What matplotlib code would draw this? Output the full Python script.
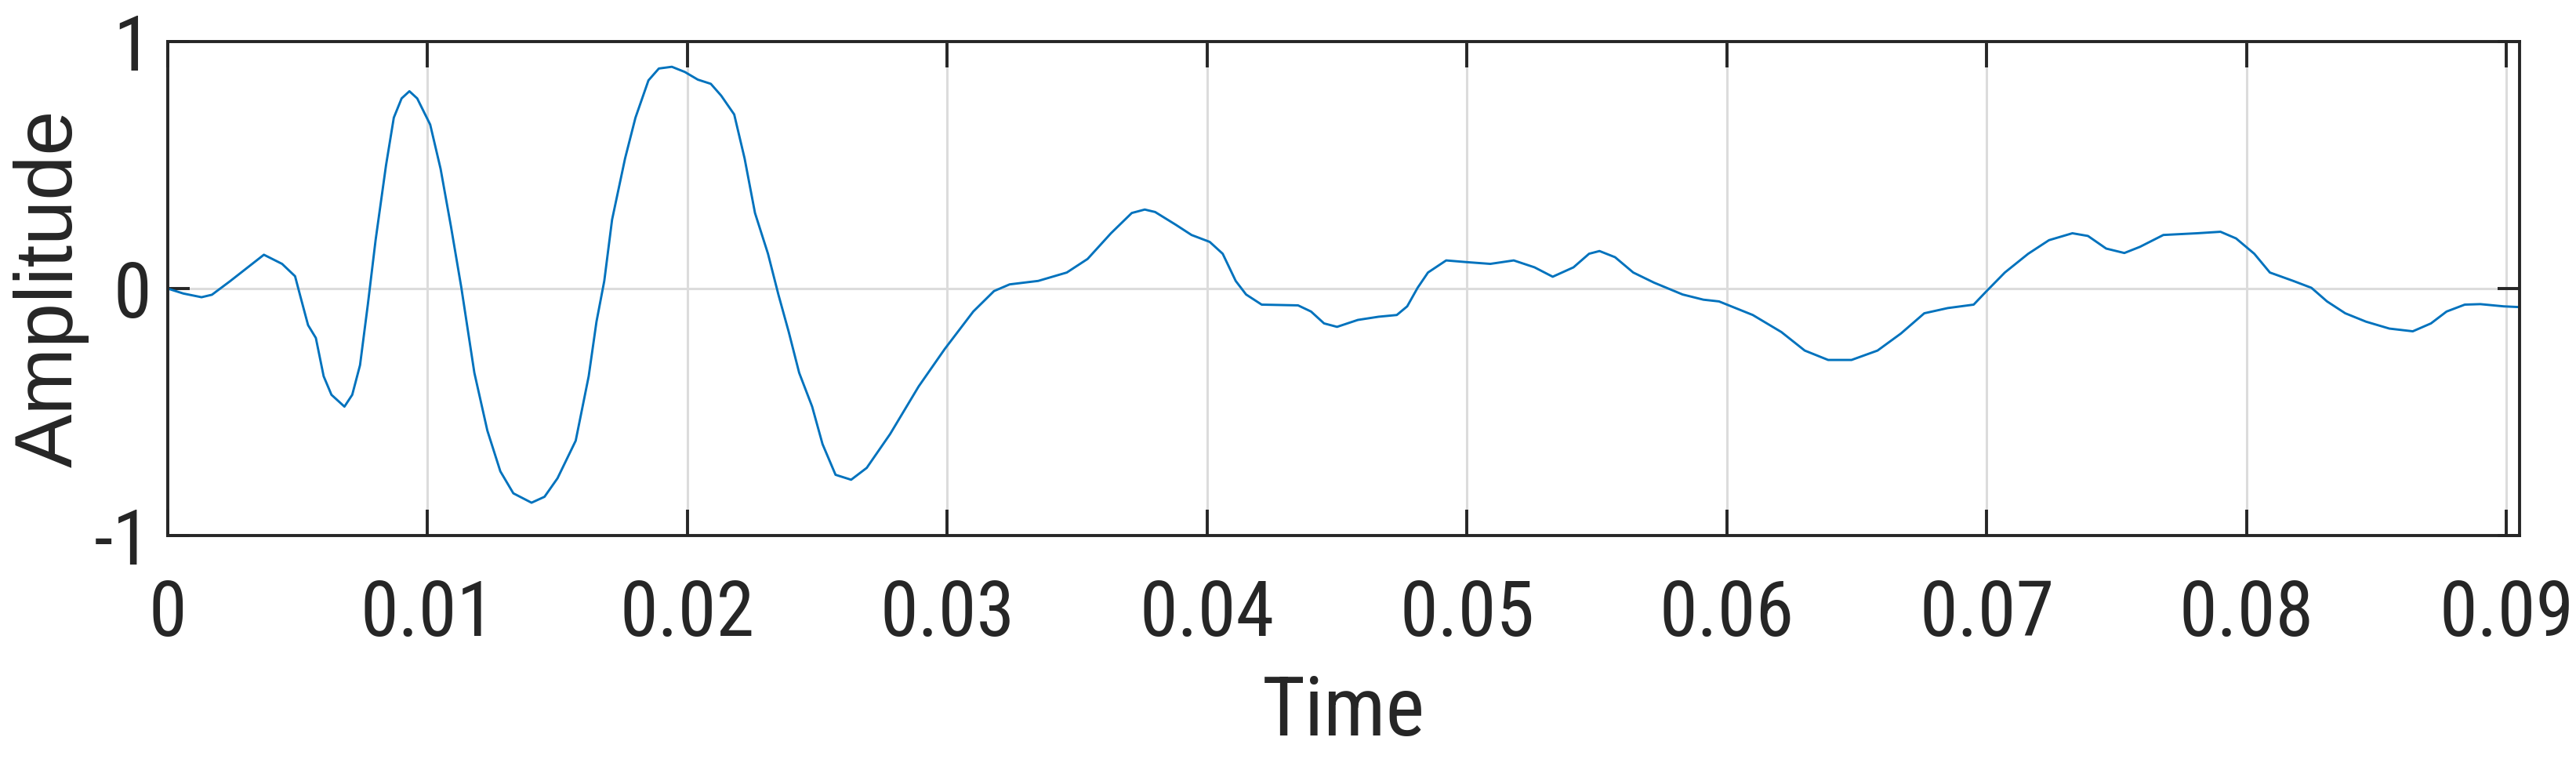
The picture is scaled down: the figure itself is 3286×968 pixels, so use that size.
import matplotlib
matplotlib.use('Agg')
import matplotlib.pyplot as plt

# signal samples (time in s, amplitude)
time = [0.0000, 0.0006, 0.0013, 0.0017, 0.0024, 0.0037, 0.0044, 0.0049, 0.0051, 0.0054,
        0.0057, 0.0060, 0.0063, 0.0068, 0.0071, 0.0074, 0.0077, 0.0080, 0.0084, 0.0087,
        0.0090, 0.0093, 0.0096, 0.0101, 0.0105, 0.0109, 0.0113, 0.0118, 0.0123, 0.0128,
        0.0133, 0.0140, 0.0145, 0.0150, 0.0157, 0.0162, 0.0165, 0.0168, 0.0171, 0.0176,
        0.0180, 0.0185, 0.0189, 0.0194, 0.0199, 0.0204, 0.0209, 0.0213, 0.0218, 0.0222,
        0.0226, 0.0231, 0.0235, 0.0239, 0.0243, 0.0248, 0.0252, 0.0257, 0.0263, 0.0269,
        0.0278, 0.0289, 0.0299, 0.0310, 0.0318, 0.0324, 0.0335, 0.0346, 0.0354, 0.0363,
        0.0371, 0.0376, 0.0380, 0.0388, 0.0394, 0.0401, 0.0406, 0.0411, 0.0415, 0.0421,
        0.0435, 0.0440, 0.0445, 0.0450, 0.0458, 0.0466, 0.0473, 0.0477, 0.0481, 0.0485,
        0.0492, 0.0500, 0.0509, 0.0518, 0.0526, 0.0533, 0.0541, 0.0547, 0.0551, 0.0557,
        0.0564, 0.0572, 0.0583, 0.0591, 0.0597, 0.0610, 0.0621, 0.0630, 0.0639, 0.0648,
        0.0658, 0.0667, 0.0676, 0.0685, 0.0695, 0.0700, 0.0707, 0.0716, 0.0724, 0.0733,
        0.0739, 0.0746, 0.0753, 0.0759, 0.0768, 0.0781, 0.0790, 0.0796, 0.0803, 0.0809,
        0.0818, 0.0825, 0.0831, 0.0838, 0.0846, 0.0855, 0.0864, 0.0871, 0.0877, 0.0884,
        0.0890, 0.0899, 0.0905]
amplitude = [0.000, -0.020, -0.035, -0.025, 0.030, 0.137, 0.100, 0.050, -0.030, -0.148,
             -0.200, -0.355, -0.430, -0.478, -0.430, -0.310, -0.065, 0.197, 0.499, 0.692,
             0.770, 0.799, 0.770, 0.664, 0.485, 0.251, 0.003, -0.341, -0.575, -0.740,
             -0.829, -0.867, -0.843, -0.768, -0.616, -0.355, -0.134, 0.031, 0.279, 0.527,
             0.692, 0.843, 0.891, 0.898, 0.877, 0.846, 0.829, 0.781, 0.705, 0.527,
             0.306, 0.141, -0.024, -0.176, -0.341, -0.478, -0.630, -0.754, -0.774, -0.726,
             -0.589, -0.396, -0.245, -0.093, -0.010, 0.017, 0.031, 0.065, 0.120, 0.224,
             0.306, 0.320, 0.310, 0.258, 0.217, 0.189, 0.141, 0.031, -0.024, -0.065,
             -0.068, -0.093, -0.141, -0.155, -0.127, -0.114, -0.107, -0.072, 0.003, 0.065,
             0.114, 0.107, 0.100, 0.114, 0.086, 0.048, 0.086, 0.141, 0.152, 0.127,
             0.065, 0.024, -0.024, -0.045, -0.052, -0.107, -0.176, -0.251, -0.289, -0.289,
             -0.251, -0.182, -0.100, -0.079, -0.065, -0.010, 0.065, 0.141, 0.196, 0.224,
             0.213, 0.162, 0.144, 0.169, 0.217, 0.224, 0.230, 0.203, 0.141, 0.065,
             0.031, 0.003, -0.052, -0.100, -0.134, -0.162, -0.173, -0.141, -0.093, -0.065,
             -0.063, -0.072, -0.075]

xticks = [0, 0.01, 0.02, 0.03, 0.04, 0.05, 0.06, 0.07, 0.08, 0.09]
xticklabels = ['0', '0.01', '0.02', '0.03', '0.04', '0.05', '0.06', '0.07', '0.08', '0.09']
yticks = [-1, 0, 1]

# the reference text is squeezed sideways, so a narrow grotesque fits best
plt.rcParams['font.family'] = ['Roboto Condensed', 'Liberation Sans', 'DejaVu Sans']
plt.rcParams['axes.unicode_minus'] = False

dark = '#262626'
fig = plt.figure(figsize=(32.87, 9.68), dpi=100)
ax = fig.add_axes([0.0651, 0.2944, 0.9126, 0.6508])

ax.plot(time, amplitude, color='#0072BD', lw=2.1)

ax.set_xlim(0, 0.0905)
ax.set_ylim(-1, 1)
ax.set_xticks(xticks)
ax.set_xticklabels(xticklabels)
ax.set_yticks(yticks)

ax.grid(True, color='#dcdcdc', lw=2.2)
ax.set_axisbelow(True)
for s in ax.spines.values():
    s.set_color(dark)
    s.set_linewidth(2.8)

ax.tick_params(axis='x', direction='in', length=24, width=2.8, colors=dark,
               labelsize=71, pad=39, top=True)
ax.tick_params(axis='y', direction='in', length=20, width=2.8, colors=dark,
               labelsize=71, pad=15, right=True)

ax.set_xlabel('Time', fontsize=76, color=dark)
# vertical label is not squeezed along its length: plain width font
ax.set_ylabel('Amplitude', fontsize=74, color=dark,
              family=['Liberation Sans', 'DejaVu Sans'])
ax.xaxis.set_label_coords(0.5, -0.279)
ax.yaxis.set_label_coords(-0.0333, 0.5)

fig.savefig('out.png', dpi=100)
